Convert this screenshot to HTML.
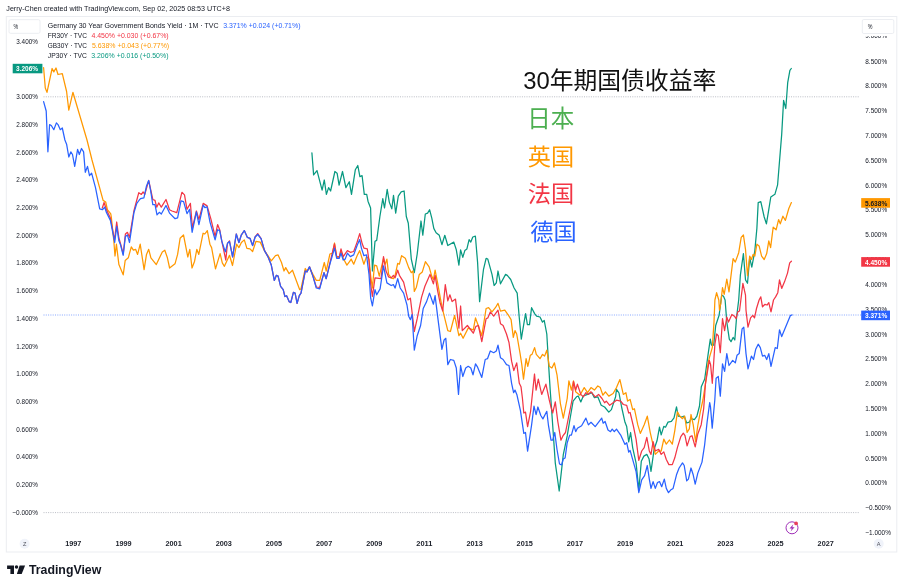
<!DOCTYPE html>
<html lang="zh"><head><meta charset="utf-8"><title>30年期国债收益率</title>
<style>
html,body{margin:0;padding:0;background:#fff;}
body{width:903px;height:588px;overflow:hidden;font-family:"Liberation Sans", "Noto Sans CJK SC", sans-serif;}
svg{display:block}
svg text{font-family:"Liberation Sans", "Noto Sans CJK SC", sans-serif;}
.ax{font-size:7.1px;fill:#131722;}
.tm{font-size:8px;fill:#20242e;font-weight:bold;}
.lg{font-size:7.3px;fill:#131722;}
.cn{font-family:"Liberation Sans","Noto Sans CJK SC",sans-serif;}
</style></head><body>
<svg width="903" height="588" viewBox="0 0 903 588">
<rect x="0" y="0" width="903" height="588" fill="#fff"/>
<text x="6.3" y="11.2" font-size="7.17" fill="#131722">Jerry-Chen created with TradingView.com, Sep 02, 2025 08:53 UTC+8</text>
<rect x="6.3" y="16.5" width="890.5" height="535.5" fill="#fff" stroke="#ebedf1" stroke-width="1"/>
<rect x="9" y="19.7" width="31" height="13.6" rx="1.5" fill="#fff" stroke="#eceef2" stroke-width="1"/>
<text class="ax" x="13.6" y="29.3" textLength="4.7" lengthAdjust="spacingAndGlyphs">%</text>
<rect x="862.3" y="19.5" width="31.5" height="14" rx="1.5" fill="#fff" stroke="#eceef2" stroke-width="1"/>
<text class="ax" x="867.7" y="29.4" textLength="4.7" lengthAdjust="spacingAndGlyphs">%</text>
<line x1="43.5" y1="96.8" x2="859.5" y2="96.8" stroke="#a9acb6" stroke-width="0.8" stroke-dasharray="1 1.3"/>
<line x1="43.5" y1="512.6" x2="859.5" y2="512.6" stroke="#a9acb6" stroke-width="0.8" stroke-dasharray="1 1.3"/>
<line x1="43.5" y1="315" x2="861" y2="315" stroke="#2962ff" stroke-opacity="0.7" stroke-width="0.8" stroke-dasharray="1 1.3"/>
<polyline fill="none" stroke="#089981" stroke-width="1.25" stroke-linejoin="round" stroke-linecap="round" points="311.9,152.8 313.6,174.9 317,170.6 322.1,190.2 324.3,180 326.4,194.4 328.6,187.6 330.6,191 334.9,171.5 337.1,173.2 339.1,185.1 342.5,171.5 345.9,187.6 349.3,181.7 351.5,194.4 355.3,169.8 357.8,165.5 359.9,176.6 362.1,175.7 364.3,194.4 366.7,194.4 368,201.2 370.6,208 372.4,271 375,241.3 376.7,240.4 379.9,216.5 382.8,198.7 384.5,208 387.2,189.3 389.3,202.1 391.8,208.9 393.5,195.3 395.7,213.1 398.3,196.1 401.2,191.9 404.1,191 406.3,216.5 408.3,223.3 411.3,259.1 414.3,272.7 417.2,254 421,221 422.8,235.2 425.3,214 427.6,213.1 429.6,209.7 431.8,218.2 433.8,228.4 436.1,232.7 439.3,235.3 441.9,244.7 444.8,235.3 447.8,245.5 453.8,242.1 456.3,249.8 458.9,265.1 460.6,249.8 462.8,257.4 464.8,250.6 466.9,248.9 469.1,239.6 470.8,242.1 472.8,237 475.4,236.2 477.6,262.5 479.6,301.6 483.5,269.3 486.1,258.3 487.8,259.1 492,274.4 494.1,285.5 496.3,282.9 498,271 500.5,283.8 505.6,274.4 507.3,275.3 510.7,279.5 514.1,288 517.2,293.1 519.2,317 521.3,339.1 524.4,320.4 525.6,313.6 527.4,324.7 529.5,324.7 531.6,307.7 534.6,313.6 536.6,316.2 540,317 542.5,322.1 544.2,320.4 546.8,334 548.5,362.9 550.2,390 551.9,413.8 555.3,463.1 559.2,491 563.3,454.6 567.2,435.9 570.6,415.5 573.1,401.1 576.5,396.8 578.2,396 580.8,401.9 583.3,396 587.6,394.3 591.8,392.6 594.4,397.7 597.8,396.8 601.2,405.3 604.6,407 608.8,412.1 611.4,409.6 615.6,396.8 616.5,389.3 619,393 621.6,407 625,422.3 626.7,426.6 628.7,441.9 630.6,432.5 632.7,447.8 636.1,463.1 638.8,490.1 641.3,461.2 643.9,456.1 646.8,454.4 649,458.7 651,471.4 654.1,449.3 657,440.8 659.5,427.2 661.2,434.9 663.8,426.4 665.5,427.2 668,422.1 671.4,421.3 674,417.9 676.5,406.8 678.2,416.2 681.6,417 684.2,416.2 686.7,423 689.3,422.1 691,418.7 694.4,419.6 696.9,416.2 699.5,406 701.3,386.7 704.7,379.1 708.1,354.4 710.3,339.1 711.5,345.1 713.7,345.1 715.7,325.5 719.1,315.3 721.7,295.2 723.4,296 725.1,300 726.8,322.1 729.3,339.1 731,341.7 733.1,337.4 734.8,340 736.6,317 738.7,300 740.4,274.8 743.4,253.6 745.5,279.9 747.5,283.3 749.7,257.8 751.8,267.2 754.8,251 756.9,228.1 758.2,202.6 760.8,201.7 764.2,217 766.4,223.8 768.4,211.9 770.8,197 774.9,194.3 777.6,184.8 781.7,134.4 783.6,100.4 785.8,108.5 787.7,82.7 789.9,70.4 791.3,68.5"/>
<polyline fill="none" stroke="#ff9800" stroke-width="1.25" stroke-linejoin="round" stroke-linecap="round" points="43.6,67.7 45.3,88 47,92.3 52.1,68.5 53.8,71.9 56,68 58,74.5 62.3,73.6 66.6,91.5 68.8,110.2 72.9,92.3 87,140 92,160 103.1,200.4 105.7,202 107.4,209.7 110.8,214 111.3,217 113.8,240.8 115,256 116.4,244.2 118.9,264.6 123.2,274.8 125.2,260.4 128.3,257.8 131.3,246.8 133.4,250.2 135.6,249.3 137.6,254.4 140.2,244.2 144.1,269.7 146.5,254.4 148.7,249.3 150.9,257.8 156.3,264.6 162.3,251.9 164.8,250.2 167.4,257.8 169.6,268 175,263.8 177.6,254.4 180.1,238.3 183.5,234.9 187.8,257 189.8,249.3 192,268 194.6,261.2 196.8,249.3 198.8,254.4 203.1,233.2 204.8,234 207.3,230.6 209.9,244.2 211.6,247.6 215.5,268.9 220.1,253.6 222.3,262.9 224.4,266.3 229.5,255.3 232.5,265.5 236.6,244.2 238.9,247.6 241.4,242.5 244.3,239.9 246.9,248.4 250,248.9 252.6,251.5 256,241.3 260.2,242.1 264.5,250.6 267.9,255.7 271.3,260.8 275.5,255.7 278.1,254.9 281.5,262.5 284,271 285.7,267.6 289.1,273.6 292.5,270.2 295.9,279.5 299.7,289.7 301,288.9 305.3,268.5 307,271 309.5,267.6 312.9,274.4 316.3,280.4 319.7,280.4 324.3,262.5 326.2,271 329.9,254 332.5,253.2 334.5,243 336.7,256.6 339.3,256.6 341,251.5 343.2,258.3 346.9,265.1 349.5,261.7 351.2,259.1 353.7,264.2 357.1,255.7 359.7,250.6 363.9,264.2 366.5,256.6 369,259.1 370.7,276.1 372.4,288 374.5,265.1 376.7,265.9 379.3,276.1 383.5,258.3 385.2,264.2 386.9,259.1 388.6,274.4 391.2,277.8 393.4,278.7 395.1,275.3 397.7,263.4 399.4,264.2 401.6,255.7 405.3,258.3 408.7,267.6 411.3,272.7 413,271 414.3,291.4 416.4,287.2 419.3,274.4 422.3,271.9 425.4,261.7 429.1,266.8 431.7,276.1 433.4,279.5 435.1,270.2 437.6,282.9 441,301.6 443.6,313.6 447.8,330.6 450.4,331.5 454.6,315.3 458.9,335.7 460.6,333.2 463.1,338.3 468.2,328.1 473.3,329.8 475.5,317.9 477.6,323.8 481.8,335.7 486.1,308.5 488.6,307.7 492,311.9 495.4,307.7 498,303.4 500.5,311.1 504.8,310.2 509,316.2 511.1,319.6 513.3,337.4 515,330.6 516.7,334 520.1,353.6 521.8,364.6 523.5,379.1 526.1,358.7 527.8,366.3 530.3,355.3 532,354.4 534.6,347.6 536.3,354.4 540,358.7 542.5,354.4 544.6,356.1 546.8,350.2 549.3,366.3 551.9,368 554.4,362.9 557,374.8 560.4,403.6 563.3,418.1 567.2,398.5 568.9,380.8 571.4,390.1 573.5,380.8 575.7,391.8 579.9,395.2 584.2,387.6 587.6,392.7 591,387.6 594.4,390.1 597.8,385.9 600.3,387.6 602.9,395.2 605.4,391.8 608.8,396.1 613.1,393.5 616.5,387.6 619.9,379.6 623.3,394.4 625.9,392.7 627.6,401.1 630.1,399.4 632.7,409.6 634.4,408.7 637.8,424.9 640.3,433.4 644.2,424.7 647.3,416.2 650.2,432.3 652.7,443.4 655.3,454.4 658.7,451 661.2,451 663.8,439.1 666.3,444.2 669.4,440 672.3,444.2 674.8,430.6 677.4,411.9 679.9,416.2 682.5,418.7 684.7,416.2 687.1,432.3 689.3,428.9 691,414.5 693.2,424.7 695.6,441.7 697.8,425.5 700.3,411.9 702.9,400 705.5,383.3 708.1,362.9 709.8,356.1 712.3,347.6 714,322.1 714.9,300 716.6,292.7 718.8,300 719.5,310.2 720.8,303.4 722.5,287.6 724.2,294.4 726.8,279.1 729,291.8 733.1,258.7 735.3,262.1 738.7,252.7 741.2,237.4 743.4,234.9 745.5,249.3 747.5,275.7 749.7,256.1 751.4,259.5 753.1,254.4 754.8,256.1 756.9,244.2 759.1,245.9 761.6,256.1 764.2,259.5 766.7,253.6 768.8,240.8 770.6,247.6 773.2,227.2 776.1,229.8 778.6,219.6 780.3,223.8 782.9,216.2 785.4,220.4 788.8,208.5 791.4,202.6"/>
<polyline fill="none" stroke="#f23645" stroke-width="1.25" stroke-linejoin="round" stroke-linecap="round" points="102.3,208 104.1,202.5 106.5,209.7 110.4,218 114.5,240 116.7,222 118.9,238 120.6,244 123.2,254 125.4,234 127.4,232.3 129.5,237.4 133.9,211 136.8,200 138.8,192.7 141.4,194.4 143.1,191.9 144.8,194.4 148.7,180.5 152.8,199.5 155,200.4 156.7,207.2 158.7,202.9 161.3,207.2 166,199.5 169.5,209.7 172,211 176.8,212.7 181.9,192.3 184.5,194.9 187,209.3 190.4,203.4 192.4,228 196.4,211 198.9,219.5 203.2,203.4 207.1,205.9 210.8,218.7 215.1,236.5 217.6,224.6 219.7,229.7 221.9,241.6 225.8,260 227.5,243.3 229.5,240.8 232.6,256.9 236.3,234 238.9,242.5 241.4,234.8 244.3,230.6 247.4,237.4 250,238.3 252.6,245.5 255.1,237 257.7,233.6 261.1,238.7 264.5,250.6 267.9,256.6 271.3,265.1 274.3,280.4 276.4,275.3 278.1,276.1 280.6,286.3 283.2,289.7 284.9,296.5 286.6,295.7 289.1,301.6 290.8,302.5 293.4,292.3 295.1,293.1 297.1,303.3 299.3,295.7 301,293.1 305.3,271 307,271.9 309.5,266.8 312.9,276.1 316.3,287 319.7,287.5 324,272.7 326.2,278.7 329.9,263 334.5,243.8 336.7,257 339.3,257 341,248.9 343.2,256.6 347.4,250.6 350.3,252.3 353.7,251.5 357.1,242.1 359.7,233.6 362.2,243.8 363.9,248.1 367.3,248.9 369,260.8 370.7,284.6 372.4,296.5 375,277.8 381,278.7 383.5,256.6 386,271 388.6,277 391.2,277.8 393.4,275.3 395.1,277.8 397.7,270.2 399.4,275.3 403.6,282.1 407.9,299.9 410.4,298.2 413,320 414.3,331.5 417.2,318.7 421.5,297.4 424.9,286.3 430,274.4 433.4,283.8 435.1,275.3 437.6,290.6 440.2,303.3 442.7,311 445.3,284.6 447.8,300.8 449.9,294.8 452.1,301.6 455.5,299.1 458.9,328.1 460.6,306 462.3,330.6 467.4,325.5 473.3,333.2 475.9,326.4 478.4,325.5 481.8,341.7 486.1,318.7 487.8,317.9 490.3,311.9 493.7,316.2 498,310.2 500.5,323.8 503.1,325.5 506.5,334 509,342.5 511.6,361.2 513.8,370.6 516.7,362.9 519.3,383.3 521,386.7 522.4,398 523.8,413 525.5,412.1 527.6,426.6 530.6,411.3 534.5,374 536.1,390.1 538.3,379.1 541.7,394.4 545.9,384.2 549.3,400 551,407 552.7,413 555.3,401.9 557.8,421.5 560.9,440.2 562.9,435.9 565.5,432.5 568.9,415.5 572.3,398.5 573.5,381.6 575.7,390.1 577.4,384.2 580.8,394.4 583.3,396.9 585.9,392.7 588.4,394.4 591,391.8 595.2,396.9 598.6,394.4 602,398.5 604.6,402.8 606.3,401.1 609.7,405.3 613.1,402.8 616.5,400.2 620.7,401.1 623.3,404.5 626.7,405.3 628.7,413 630.1,412.5 633.5,426.6 636.1,439.3 638.8,460.4 641.7,451 644.2,447.6 646.8,437.4 649.3,451 651,454.4 653.1,441.7 655.3,451 658.7,449.3 661.2,454.4 663.8,451.9 666.3,459.5 668.9,464.6 672.3,464.6 674.8,457.8 677.4,447.6 680.8,436.6 683.3,433.2 685,435.7 687.1,445.9 690.1,436.6 692,435.7 695.2,446.8 697.8,434 701.2,424.7 703.7,408.5 705.5,383.3 709.3,360.4 710.6,364.6 712.3,383.3 714.9,344.2 716.6,334 718.3,335.7 720.3,352.7 722.5,318.7 724.6,330.6 726.8,317 728.5,322.1 731.9,314.5 734.4,316.2 736.1,318.7 737.8,311.9 739.5,311 742.9,283.3 745.5,295.2 746,310.2 748,327.2 750.6,317.9 752.8,315.3 754.5,317.9 756.5,308.5 759.1,300 760.8,296.9 762.5,306.8 765,304.3 767,305 768.8,302.6 771,311.9 773.5,300 775.6,296.9 777.8,292.7 779.5,279.9 781.7,288.4 784.6,281.6 787.5,273.1 789.7,262.9 791.4,261.2"/>
<polyline fill="none" stroke="#2962ff" stroke-width="1.25" stroke-linejoin="round" stroke-linecap="round" points="43.6,101.7 46.2,111 47.9,151.8 49.6,124.6 51.3,125.5 53.8,129.7 56.4,122.9 58,124.6 60.3,129.7 62.3,128 64.9,140 66.6,144.2 68.8,157 70.8,151.9 72.5,154.5 74.7,166.4 77.6,149.4 79.3,154.5 81.5,148.5 83.6,151.9 85.3,172.3 87.5,166.4 89.5,175.7 91.6,173.2 95.5,187.6 99.7,208.9 102.3,209.7 104.8,207.2 106.2,211.9 110.4,220.4 114.7,242.5 116.7,226.4 118.9,240.8 120.6,245.1 123.2,255.3 125.4,236.6 127.4,234.9 129.5,242.5 133.9,212.8 136.8,203.4 139.3,200 140.5,198.7 143.9,197.8 146.5,185.9 148.7,180.5 150.7,191 152.8,204.6 155,204.6 157,214.8 159.3,212.3 161.3,214 166,205.5 169.5,213.1 175.1,218.7 177.6,217.9 181,200.8 183.6,201.7 187,213.6 189.6,209.3 192.1,232.3 196.4,211.9 198.9,224.6 203.2,205.1 204.9,207.6 207.1,206.8 210,222.1 215.1,239.9 217.6,229.7 219.7,230.6 221.9,241.6 225.3,251.8 227.5,243.3 229.5,241.6 232.6,256.9 236.3,234 238.9,242.5 241.4,234.8 244.3,230.6 247.4,237.4 250,238.3 252.6,245.5 255.1,237 257.7,234.5 261.1,238.7 264.5,250.6 267.9,256.6 271.3,265.1 274.3,280.4 276.4,275.3 278.1,276.1 280.6,286.3 283.2,289.7 284.9,296.5 286.6,295.7 289.1,301.6 290.8,302.5 293.4,292.3 295.1,293.1 297.1,303.3 299.3,295.7 301,293.1 305.3,271 307,271.9 309.5,266.8 312.9,276.1 316.3,288 319.7,288.9 324,272.7 326.2,278.7 329.9,264.2 334.5,248.1 336.7,258.3 339.3,258.3 341,253.2 343.2,260 345.2,259.1 347.4,253.2 350.3,256.6 353.7,254.9 357.1,245.5 359.7,239.6 361.4,248.1 363.9,255.7 366.5,254.9 369,274.4 370.7,298.2 372.4,305.9 375,289.7 376.7,294.8 380.1,288.9 383.5,265.9 386.9,282.9 391.2,285.5 393.4,284.6 395.1,288 397.7,278.7 400.2,288 403.6,293.1 407,305 408.7,316.2 410.4,319.6 412.1,314.5 414.3,350.2 417.2,335.7 420.6,325.5 423.2,308.5 424.9,305 426.6,301.6 429.5,293.1 433.4,304.2 435.1,295.7 437.6,316.2 441.9,349.3 444.1,340 445.8,338.3 447.8,364.6 450.4,359.5 453.8,360.4 456.3,368 458.5,394.4 460.6,365.5 462.8,376.5 465.7,368 468.2,366.3 470.8,368 473,374.8 475.5,363.8 477.6,367.2 481.8,377.4 485.2,359.5 487.5,358.7 490.3,351 493.7,352.7 496.3,351 498,345.1 500.5,357.8 503.1,359.5 506.5,364.6 509,365.5 511.6,383.3 513.6,392.7 515,390.1 517,395.1 520.4,410.4 523.8,433.4 525.5,432.5 527.6,451.2 531.5,425.7 534,406.2 536.1,414.7 537.9,407 540.8,415.5 542.9,418.9 546.8,411.3 548.5,425.7 551,440.2 552.7,440.2 554.8,432.5 557,449.5 559.5,464 561.6,464.8 563.3,458.9 565.1,458 567.2,442.7 569.7,435.1 571.4,435.1 574,425.7 575.7,431.7 577.4,428.3 581.6,425.7 585.9,418.1 588.4,424.9 591,422.3 595.2,426.6 601.7,418.1 603.2,423.2 605.1,421.5 608,430 610.5,431.7 612.2,429.1 614.3,431.7 616.5,429.1 620.7,435.1 625,444.4 626.7,442.7 628.7,452.1 630.1,450.4 632.7,459.7 636.1,471.6 638.8,492.7 641.7,479.9 644.6,475.7 647.3,465.5 649.3,479.1 651,488.4 653.1,481.6 655.3,488.4 657.5,482.5 659.5,481.6 661.7,486.7 664.3,479.1 666.3,488.4 668.5,492.7 670.6,490.1 673.1,488.4 676.5,474.8 679.1,468 682.5,462.9 684.2,465.5 686.7,480.8 688.4,479.1 691,468 693.2,474.8 695.2,484.2 697.8,473.1 702,462.1 704.6,445.1 707.1,422.1 709.7,402.6 710.5,406.8 712.2,428.1 714.8,400 716.1,378.2 718.3,376.5 720.3,396.1 722.5,363.8 724.6,371.4 726.8,353.6 729,365.5 732.7,360.4 735.3,362.9 737,355.3 739.2,353.6 742.1,328.9 743.8,327.2 746,353.6 748,368.9 751.4,356.1 753.5,359.5 755.7,349.3 758.2,344.2 760.3,347.6 762.5,356.1 764.7,355.3 766.7,359.5 768.8,353.6 771,366.3 775.2,347.6 777.3,348.5 779.5,329.8 781.7,336.6 790.5,315.3 792.2,315"/>
<text class="ax" x="37.9" y="43.6" text-anchor="end" textLength="21.6" lengthAdjust="spacingAndGlyphs">3.400%</text>
<text class="ax" x="37.9" y="71.4" text-anchor="end" textLength="21.6" lengthAdjust="spacingAndGlyphs">3.200%</text>
<text class="ax" x="37.9" y="99.1" text-anchor="end" textLength="21.6" lengthAdjust="spacingAndGlyphs">3.000%</text>
<text class="ax" x="37.9" y="126.8" text-anchor="end" textLength="21.6" lengthAdjust="spacingAndGlyphs">2.800%</text>
<text class="ax" x="37.9" y="154.5" text-anchor="end" textLength="21.6" lengthAdjust="spacingAndGlyphs">2.600%</text>
<text class="ax" x="37.9" y="182.2" text-anchor="end" textLength="21.6" lengthAdjust="spacingAndGlyphs">2.400%</text>
<text class="ax" x="37.9" y="209.9" text-anchor="end" textLength="21.6" lengthAdjust="spacingAndGlyphs">2.200%</text>
<text class="ax" x="37.9" y="237.6" text-anchor="end" textLength="21.6" lengthAdjust="spacingAndGlyphs">2.000%</text>
<text class="ax" x="37.9" y="265.3" text-anchor="end" textLength="21.6" lengthAdjust="spacingAndGlyphs">1.800%</text>
<text class="ax" x="37.9" y="293.1" text-anchor="end" textLength="21.6" lengthAdjust="spacingAndGlyphs">1.600%</text>
<text class="ax" x="37.9" y="320.8" text-anchor="end" textLength="21.6" lengthAdjust="spacingAndGlyphs">1.400%</text>
<text class="ax" x="37.9" y="348.5" text-anchor="end" textLength="21.6" lengthAdjust="spacingAndGlyphs">1.200%</text>
<text class="ax" x="37.9" y="376.2" text-anchor="end" textLength="21.6" lengthAdjust="spacingAndGlyphs">1.000%</text>
<text class="ax" x="37.9" y="403.9" text-anchor="end" textLength="21.6" lengthAdjust="spacingAndGlyphs">0.800%</text>
<text class="ax" x="37.9" y="431.6" text-anchor="end" textLength="21.6" lengthAdjust="spacingAndGlyphs">0.600%</text>
<text class="ax" x="37.9" y="459.3" text-anchor="end" textLength="21.6" lengthAdjust="spacingAndGlyphs">0.400%</text>
<text class="ax" x="37.9" y="487.0" text-anchor="end" textLength="21.6" lengthAdjust="spacingAndGlyphs">0.200%</text>
<text class="ax" x="37.9" y="514.8" text-anchor="end" textLength="25.6" lengthAdjust="spacingAndGlyphs">−0.000%</text>
<text class="ax" x="865.3" y="63.6" textLength="21.8" lengthAdjust="spacingAndGlyphs">8.500%</text>
<text class="ax" x="865.3" y="88.4" textLength="21.8" lengthAdjust="spacingAndGlyphs">8.000%</text>
<text class="ax" x="865.3" y="113.2" textLength="21.8" lengthAdjust="spacingAndGlyphs">7.500%</text>
<text class="ax" x="865.3" y="138.0" textLength="21.8" lengthAdjust="spacingAndGlyphs">7.000%</text>
<text class="ax" x="865.3" y="162.8" textLength="21.8" lengthAdjust="spacingAndGlyphs">6.500%</text>
<text class="ax" x="865.3" y="187.6" textLength="21.8" lengthAdjust="spacingAndGlyphs">6.000%</text>
<text class="ax" x="865.3" y="212.4" textLength="21.8" lengthAdjust="spacingAndGlyphs">5.500%</text>
<text class="ax" x="865.3" y="237.3" textLength="21.8" lengthAdjust="spacingAndGlyphs">5.000%</text>
<text class="ax" x="865.3" y="262.1" textLength="21.8" lengthAdjust="spacingAndGlyphs">4.500%</text>
<text class="ax" x="865.3" y="286.9" textLength="21.8" lengthAdjust="spacingAndGlyphs">4.000%</text>
<text class="ax" x="865.3" y="311.7" textLength="21.8" lengthAdjust="spacingAndGlyphs">3.500%</text>
<text class="ax" x="865.3" y="336.5" textLength="21.8" lengthAdjust="spacingAndGlyphs">3.000%</text>
<text class="ax" x="865.3" y="361.3" textLength="21.8" lengthAdjust="spacingAndGlyphs">2.500%</text>
<text class="ax" x="865.3" y="386.1" textLength="21.8" lengthAdjust="spacingAndGlyphs">2.000%</text>
<text class="ax" x="865.3" y="410.9" textLength="21.8" lengthAdjust="spacingAndGlyphs">1.500%</text>
<text class="ax" x="865.3" y="435.7" textLength="21.8" lengthAdjust="spacingAndGlyphs">1.000%</text>
<text class="ax" x="865.3" y="460.5" textLength="21.8" lengthAdjust="spacingAndGlyphs">0.500%</text>
<text class="ax" x="865.3" y="485.4" textLength="21.8" lengthAdjust="spacingAndGlyphs">0.000%</text>
<text class="ax" x="865.3" y="510.2" textLength="25.6" lengthAdjust="spacingAndGlyphs">−0.500%</text>
<text class="ax" x="865.3" y="535.0" textLength="25.6" lengthAdjust="spacingAndGlyphs">−1.000%</text>
<clipPath id="c9"><rect x="860" y="36.1" width="40" height="10"/></clipPath>
<text class="ax" x="865.3" y="38.0" textLength="21.8" lengthAdjust="spacingAndGlyphs" clip-path="url(#c9)">9.000%</text>
<rect x="12.7" y="63.8" width="29.7" height="9.5" fill="#089981"/>
<text class="ax" x="38.1" y="71.15" text-anchor="end" textLength="22" lengthAdjust="spacingAndGlyphs" style="fill:#fff;font-weight:bold">3.206%</text>
<rect x="861.2" y="198.1" width="28.8" height="9.6" fill="#ff9800"/>
<text class="ax" x="865.0" y="205.6" textLength="22.2" lengthAdjust="spacingAndGlyphs" style="fill:#131722;font-weight:bold">5.638%</text>
<rect x="861.2" y="257.1" width="28.8" height="9.6" fill="#f23645"/>
<text class="ax" x="865.0" y="264.5" textLength="22.2" lengthAdjust="spacingAndGlyphs" style="fill:#fff;font-weight:bold">4.450%</text>
<rect x="861.2" y="310.6" width="28.8" height="9.6" fill="#2962ff"/>
<text class="ax" x="865.0" y="318.1" textLength="22.2" lengthAdjust="spacingAndGlyphs" style="fill:#fff;font-weight:bold">3.371%</text>
<text class="lg" x="47.8" y="27.9" textLength="170.8" lengthAdjust="spacingAndGlyphs">Germany 30 Year Government Bonds Yield · 1M · TVC</text>
<text class="lg" x="223.2" y="27.9" textLength="77.3" lengthAdjust="spacingAndGlyphs" style="fill:#2962ff">3.371%  +0.024 (+0.71%)</text>
<text class="lg" x="47.8" y="37.9" textLength="39.2" lengthAdjust="spacingAndGlyphs">FR30Y · TVC</text>
<text class="lg" x="91.4" y="37.9" textLength="77.3" lengthAdjust="spacingAndGlyphs" style="fill:#f23645">4.450%  +0.030 (+0.67%)</text>
<text class="lg" x="47.8" y="47.9" textLength="39.2" lengthAdjust="spacingAndGlyphs">GB30Y · TVC</text>
<text class="lg" x="91.9" y="47.9" textLength="77.3" lengthAdjust="spacingAndGlyphs" style="fill:#ff9800">5.638%  +0.043 (+0.77%)</text>
<text class="lg" x="47.8" y="58.0" textLength="39.2" lengthAdjust="spacingAndGlyphs">JP30Y · TVC</text>
<text class="lg" x="91.2" y="58.0" textLength="77.3" lengthAdjust="spacingAndGlyphs" style="fill:#089981">3.206%  +0.016 (+0.50%)</text>
<text class="tm" x="65.2" y="545.9" textLength="16.2" lengthAdjust="spacingAndGlyphs">1997</text>
<text class="tm" x="115.4" y="545.9" textLength="16.2" lengthAdjust="spacingAndGlyphs">1999</text>
<text class="tm" x="165.5" y="545.9" textLength="16.2" lengthAdjust="spacingAndGlyphs">2001</text>
<text class="tm" x="215.7" y="545.9" textLength="16.2" lengthAdjust="spacingAndGlyphs">2003</text>
<text class="tm" x="265.8" y="545.9" textLength="16.2" lengthAdjust="spacingAndGlyphs">2005</text>
<text class="tm" x="316.0" y="545.9" textLength="16.2" lengthAdjust="spacingAndGlyphs">2007</text>
<text class="tm" x="366.2" y="545.9" textLength="16.2" lengthAdjust="spacingAndGlyphs">2009</text>
<text class="tm" x="416.3" y="545.9" textLength="16.2" lengthAdjust="spacingAndGlyphs">2011</text>
<text class="tm" x="466.5" y="545.9" textLength="16.2" lengthAdjust="spacingAndGlyphs">2013</text>
<text class="tm" x="516.6" y="545.9" textLength="16.2" lengthAdjust="spacingAndGlyphs">2015</text>
<text class="tm" x="566.8" y="545.9" textLength="16.2" lengthAdjust="spacingAndGlyphs">2017</text>
<text class="tm" x="617.0" y="545.9" textLength="16.2" lengthAdjust="spacingAndGlyphs">2019</text>
<text class="tm" x="667.1" y="545.9" textLength="16.2" lengthAdjust="spacingAndGlyphs">2021</text>
<text class="tm" x="717.3" y="545.9" textLength="16.2" lengthAdjust="spacingAndGlyphs">2023</text>
<text class="tm" x="767.4" y="545.9" textLength="16.2" lengthAdjust="spacingAndGlyphs">2025</text>
<text class="tm" x="817.6" y="545.9" textLength="16.2" lengthAdjust="spacingAndGlyphs">2027</text>
<circle cx="24.6" cy="543.8" r="5" fill="#f0f3fa"/><text x="24.6" y="546" font-size="5.6" fill="#50535e" text-anchor="middle">Z</text>
<circle cx="878.7" cy="543.8" r="5" fill="#f0f3fa"/><text x="878.7" y="546" font-size="5.6" fill="#50535e" text-anchor="middle">A</text>
<g><circle cx="792" cy="527.8" r="6" fill="#fff" stroke="#a030b8" stroke-width="1"/><path d="M793.3 524.2 L789.5 528.5 L791.8 528.5 L790.6 531.6 L794.6 527.2 L792.3 527.2 Z" fill="#a030b8"/><circle cx="796.1" cy="523.4" r="1.85" fill="#e8405a"/></g>
<text class="cn" x="523.2" y="89.1" font-size="23.8" fill="#111">30年期国债收益率</text>
<text class="cn" x="527.3" y="127.0" font-size="23.5" fill="#4caf50">日本</text>
<text class="cn" x="527.8" y="164.9" font-size="23.2" fill="#ff9800">英国</text>
<text class="cn" x="527.8" y="202.4" font-size="23.2" fill="#f23645">法国</text>
<text class="cn" x="530.3" y="240.4" font-size="23.2" fill="#2962ff">德国</text>
<g fill="#131722"><path d="M7.1 565.4 H14 V573.9 H10.4 V569 H7.1 Z"/><circle cx="16.5" cy="567.1" r="1.75"/><path d="M19.6 565.4 H25.1 L21.7 573.9 H16.9 Z"/></g>
<text x="28.9" y="573.9" font-size="12.2" font-weight="bold" fill="#131722" textLength="72.4" lengthAdjust="spacingAndGlyphs">TradingView</text>
</svg>
</body></html>
